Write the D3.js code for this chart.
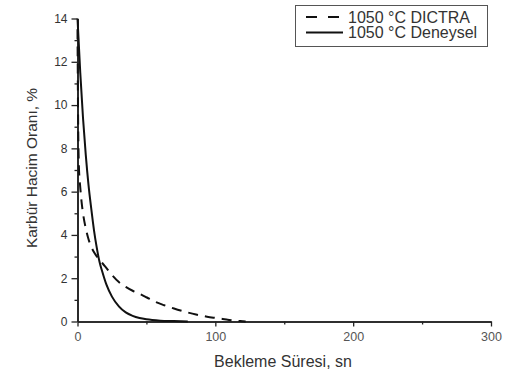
<!DOCTYPE html>
<html><head><meta charset="utf-8">
<script src="https://cdn.jsdelivr.net/npm/d3@7"></script>
<style>body{margin:0;background:#fff}svg{display:block}</style>
</head><body>
<svg id="c" width="511" height="376"></svg>
<script>
const xTicks = [0, 100, 200, 300];
const yTicks = [0, 2, 4, 6, 8, 10, 12, 14];
const seriesNames = ["1050 °C DICTRA", "1050 °C Deneysel"];
const dictraT = [0, 0.5, 1, 2, 3, 4, 6, 8, 10, 13, 16, 20, 25, 30, 35, 40, 45, 50, 56, 63, 70, 78, 86, 94, 102, 110, 118, 122];
const dictraV = [13.5, 9, 7.2, 6.2, 5.5, 5.0, 4.3, 3.8, 3.45, 3.1, 2.85, 2.55, 2.15, 1.82, 1.6, 1.42, 1.28, 1.12, 0.92, 0.75, 0.6, 0.45, 0.32, 0.22, 0.15, 0.07, 0.02, 0];
const expT = [0, 2, 4, 6, 8, 10, 12, 14, 16, 18, 21, 25, 30, 35, 40, 45, 50, 60, 70, 80];
const expV = [14, 11.5, 9.4, 7.7, 6.3, 5.2, 4.2, 3.4, 2.75, 2.3, 1.7, 1.15, 0.7, 0.42, 0.26, 0.16, 0.1, 0.04, 0.02, 0];

const svg = d3.select("#c");
const x = d3.scaleLinear().domain([0, 300]).range([77.5, 491]);
const y = d3.scaleLinear().domain([0, 14]).range([321.5, 18.5]);
const font = "Liberation Sans, Arial, sans-serif";

const xAxis = svg.append("g").attr("transform", "translate(0,321.5)")
  .call(d3.axisBottom(x).tickValues(xTicks).tickSize(5).tickPadding(6).tickSizeOuter(0));
const xMinor = svg.append("g").attr("transform", "translate(0,321.5)")
  .call(d3.axisBottom(x).tickValues([50,150,250]).tickSize(3).tickFormat("").tickSizeOuter(0));
const yAxis = svg.append("g").attr("transform", "translate(77.5,0)")
  .call(d3.axisLeft(y).tickValues(yTicks).tickSize(6).tickPadding(4).tickSizeOuter(0));
const yMinor = svg.append("g").attr("transform", "translate(77.5,0)")
  .call(d3.axisLeft(y).tickValues([1,3,5,7,9,11,13]).tickSize(3).tickFormat("").tickSizeOuter(0));
[xAxis, xMinor, yAxis, yMinor].forEach(g => {
  g.select(".domain").attr("stroke", "#222").attr("stroke-width", 1.6);
  g.selectAll(".tick line").attr("stroke", "#222").attr("stroke-width", 1.3);
  g.selectAll("text").attr("font-family", font);
});
xAxis.selectAll("text").attr("font-size", 12.5).attr("fill", "#555");
yAxis.selectAll("text").attr("font-size", 12).attr("fill", "#333");

const line = d3.line().x(d => x(d[0])).y(d => y(d[1])).curve(d3.curveMonotoneX);
svg.append("path").datum(dictraT.map((t, i) => [t, dictraV[i]]))
  .attr("d", line).attr("fill", "none").attr("stroke", "#111").attr("stroke-width", 2)
  .attr("stroke-dasharray", "10,7");
svg.append("path").datum(expT.map((t, i) => [t, expV[i]]))
  .attr("d", line).attr("fill", "none").attr("stroke", "#111").attr("stroke-width", 2);

svg.append("text").attr("x", 283).attr("y", 367).attr("text-anchor", "middle")
  .attr("font-family", font).attr("font-size", 16).attr("fill", "#333").text("Bekleme Süresi, sn");
svg.append("text").attr("transform", "translate(37,168) rotate(-90)").attr("text-anchor", "middle")
  .attr("font-family", font).attr("font-size", 15.5).attr("fill", "#333").text("Karbür Hacim Oranı, %");

const lg = svg.append("g");
lg.append("rect").attr("x", 295.5).attr("y", 5.5).attr("width", 192).attr("height", 41)
  .attr("fill", "#fff").attr("stroke", "#555").attr("stroke-width", 1);
seriesNames.forEach((n, i) => {
  const cy = 17 + i * 15.5;
  lg.append("line").attr("x1", 306).attr("x2", 343).attr("y1", cy).attr("y2", cy)
    .attr("stroke", "#111").attr("stroke-width", 2)
    .attr("stroke-dasharray", i === 0 ? "11,11" : null);
  lg.append("text").attr("x", 348).attr("y", cy + 5.5).attr("font-family", font)
    .attr("font-size", 16).attr("fill", "#333").text(n);
});
</script>
</body></html>
